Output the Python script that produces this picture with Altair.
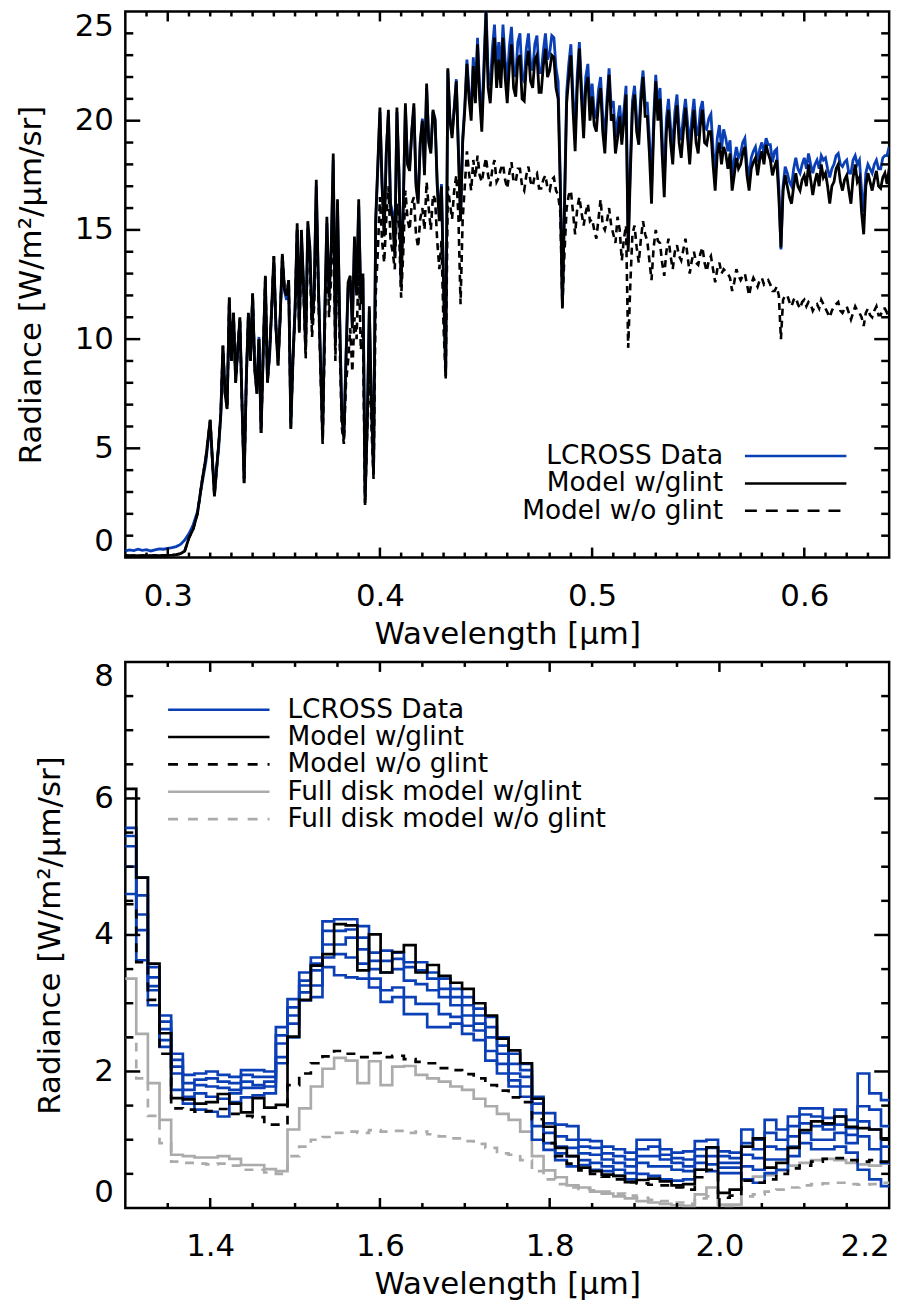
import altair as alt
import pandas as pd

FONT = "DejaVu Sans"
BLUE = "#0b3fb6"
GRAY = "#ababab"
BLACK = "#000000"
W, H = 768, 549

# ------------------------------------------------------------------
# Top panel: UV/visible spectrum (wavelength in micron, radiance)
# ------------------------------------------------------------------
TOP_WL = [
    0.280, 0.282, 0.284, 0.286, 0.288, 0.290, 0.292, 0.294, 0.296, 0.298,
    0.300, 0.302, 0.304, 0.306, 0.308, 0.310, 0.312, 0.314, 0.316, 0.318,
    0.320, 0.321, 0.322, 0.323, 0.324, 0.325, 0.326, 0.327, 0.328, 0.329,
    0.330, 0.331, 0.332, 0.333, 0.334, 0.335, 0.336, 0.337, 0.338, 0.339,
    0.340, 0.341, 0.342, 0.343, 0.344, 0.345, 0.346, 0.347, 0.348, 0.349,
    0.350, 0.351, 0.352, 0.353, 0.354, 0.355, 0.356, 0.357, 0.358, 0.359,
    0.360, 0.361, 0.362, 0.363, 0.364, 0.365, 0.366, 0.367, 0.368, 0.369,
    0.370, 0.371, 0.372, 0.373, 0.374, 0.375, 0.376, 0.377, 0.378, 0.379,
    0.380, 0.381, 0.382, 0.383, 0.384, 0.385, 0.386, 0.387, 0.388, 0.389,
    0.390, 0.391, 0.392, 0.393, 0.394, 0.395, 0.396, 0.397, 0.398, 0.399,
    0.400, 0.401, 0.402, 0.403, 0.404, 0.405, 0.406, 0.407, 0.408, 0.409,
    0.410, 0.411, 0.412, 0.413, 0.414, 0.415, 0.416, 0.417, 0.418, 0.419,
    0.420, 0.421, 0.422, 0.423, 0.424, 0.425, 0.426, 0.427, 0.428, 0.429,
    0.430, 0.431, 0.432, 0.433, 0.434, 0.435, 0.436, 0.437, 0.438, 0.439,
    0.440, 0.441, 0.442, 0.443, 0.444, 0.445, 0.446, 0.447, 0.448, 0.449,
    0.450, 0.451, 0.452, 0.453, 0.454, 0.455, 0.456, 0.457, 0.458, 0.459,
    0.460, 0.461, 0.462, 0.463, 0.464, 0.465, 0.466, 0.467, 0.468, 0.469,
    0.470, 0.471, 0.472, 0.473, 0.474, 0.475, 0.476, 0.477, 0.478, 0.479,
    0.480, 0.481, 0.482, 0.483, 0.484, 0.485, 0.486, 0.487, 0.488, 0.489,
    0.490, 0.491, 0.492, 0.493, 0.494, 0.495, 0.496, 0.497, 0.498, 0.499,
    0.500, 0.501, 0.502, 0.503, 0.504, 0.505, 0.506, 0.507, 0.508, 0.509,
    0.510, 0.511, 0.512, 0.513, 0.514, 0.515, 0.516, 0.517, 0.518, 0.519,
    0.520, 0.521, 0.522, 0.523, 0.524, 0.525, 0.526, 0.527, 0.528, 0.529,
    0.530, 0.531, 0.532, 0.533, 0.534, 0.535, 0.536, 0.537, 0.538, 0.539,
    0.540, 0.541, 0.542, 0.543, 0.544, 0.545, 0.546, 0.547, 0.548, 0.549,
    0.550, 0.551, 0.552, 0.553, 0.554, 0.555, 0.556, 0.557, 0.558, 0.559,
    0.560, 0.561, 0.562, 0.563, 0.564, 0.565, 0.566, 0.567, 0.568, 0.569,
    0.570, 0.571, 0.572, 0.573, 0.574, 0.575, 0.576, 0.577, 0.578, 0.579,
    0.580, 0.581, 0.582, 0.583, 0.584, 0.585, 0.586, 0.587, 0.588, 0.589,
    0.590, 0.591, 0.592, 0.593, 0.594, 0.595, 0.596, 0.597, 0.598, 0.599,
    0.600, 0.601, 0.602, 0.603, 0.604, 0.605, 0.606, 0.607, 0.608, 0.609,
    0.610, 0.611, 0.612, 0.613, 0.614, 0.615, 0.616, 0.617, 0.618, 0.619,
    0.620, 0.621, 0.622, 0.623, 0.624, 0.625, 0.626, 0.627, 0.628, 0.629,
    0.630, 0.631, 0.632, 0.633, 0.634, 0.635, 0.636, 0.637, 0.638, 0.639, 0.640,
]

TOP_LCROSS = [
    0.30, 0.35, 0.32, 0.38, 0.33, 0.36, 0.30, 0.35, 0.40, 0.38,
    0.42, 0.45, 0.50, 0.60, 0.80, 1.10, 1.50, 2.10, 3.30, 4.40,
    6.2, 4.6, 3.0, 4.1, 5.0, 6.5, 9.5, 7.6, 7.0, 11.6,
    9.2, 11.0, 8.2, 9.6, 10.8, 7.2, 3.6, 8.2, 11.0, 9.2,
    11.9, 8.8, 7.8, 10.1, 5.9, 9.5, 12.6, 8.2, 9.2, 11.3,
    13.5, 10.6, 9.0, 11.1, 13.6, 12.2, 11.8, 12.5, 6.2, 9.2,
    11.4, 15.0, 10.6, 14.7, 12.4, 9.8, 15.1, 14.0, 10.9, 12.1,
    17.0, 12.4, 9.1, 5.8, 11.2, 15.3, 12.1, 13.9, 18.2, 9.9,
    16.1, 11.2, 6.8, 5.7, 9.2, 12.4, 12.7, 10.7, 14.4, 12.2,
    16.1, 11.8, 12.8, 2.8, 6.2, 11.3, 7.2, 4.0, 15.3, 17.8,
    20.4, 17.2, 15.0, 18.6, 20.3, 16.2, 15.8, 14.0, 20.4, 17.6,
    12.6, 16.2, 20.6, 18.1, 17.9, 19.5, 20.6, 17.2, 16.4, 19.0,
    20.1, 17.7, 21.5, 19.1, 18.7, 20.4, 20.1, 17.2, 15.6, 17.1,
    12.6, 8.6, 22.3, 20.1, 19.4, 20.6, 21.9, 18.7, 15.6, 19.2,
    20.7, 22.8, 21.3, 20.4, 22.9, 21.2, 23.8, 21.5, 20.0, 22.6,
    25.2, 22.2, 21.6, 23.3, 24.4, 22.3, 23.6, 22.3, 24.4, 22.8,
    21.8, 23.4, 24.3, 22.4, 22.0, 23.6, 24.0, 22.0, 21.8, 23.3,
    24.0, 22.6, 22.3, 23.5, 23.9, 22.2, 22.2, 23.2, 24.0, 22.8,
    23.1, 23.9, 23.8, 22.4, 21.8, 17.3, 11.6, 16.4, 21.3, 22.6,
    23.5, 21.2, 19.3, 22.1, 23.6, 21.6, 19.8, 22.0, 22.6, 20.7,
    21.7, 20.4, 20.1, 21.4, 22.0, 20.2, 19.3, 21.0, 22.4, 20.6,
    20.9, 19.2, 20.0, 20.7, 19.6, 20.5, 21.6, 14.3, 18.0, 20.9,
    21.6, 20.1, 19.5, 21.3, 22.3, 20.8, 20.8, 19.2, 16.9, 20.1,
    22.1, 20.6, 21.5, 19.3, 17.2, 20.1, 21.0, 19.7, 18.8, 20.4,
    21.2, 19.7, 19.1, 20.2, 21.0, 19.9, 18.8, 20.1, 21.0, 19.7,
    19.3, 20.5, 20.9, 19.7, 19.6, 20.1, 20.3, 18.7, 17.5, 19.2,
    19.8, 18.7, 19.6, 19.2, 18.6, 19.1, 17.5, 18.2, 18.8, 18.3,
    18.5, 19.0, 19.2, 18.0, 17.4, 18.3, 18.6, 18.8, 18.1, 18.7,
    19.0, 18.5, 19.2, 18.9, 18.9, 18.1, 18.6, 18.7, 17.0, 14.1,
    17.0, 17.9, 17.6, 17.2, 17.0, 17.8, 18.3, 17.8, 17.6, 18.0,
    18.3, 17.8, 18.5, 18.0, 17.6, 18.0, 18.2, 17.8, 18.4, 18.2,
    18.3, 17.8, 17.4, 17.8, 18.0, 18.4, 18.5, 18.0, 17.9, 18.1,
    18.2, 17.6, 17.6, 18.2, 18.4, 18.0, 18.2, 16.8, 15.8, 17.6,
    18.0, 17.8, 17.6, 18.0, 18.2, 17.8, 17.8, 18.3, 18.4, 18.4, 18.8,
]

TOP_GLINT = [
    0.10, 0.08, 0.10, 0.08, 0.09, 0.10, 0.08, 0.10, 0.09, 0.10,
    0.10, 0.11, 0.13, 0.18, 0.30, 0.90, 1.30, 2.00, 3.40, 4.60,
    6.3, 4.5, 2.8, 4.0, 5.2, 6.6, 9.7, 7.5, 6.8, 11.9,
    9.0, 11.2, 8.0, 9.5, 11.0, 7.0, 3.4, 8.0, 11.2, 9.0,
    12.1, 8.6, 7.5, 10.0, 5.7, 9.4, 12.9, 8.0, 9.4, 11.5,
    13.8, 10.5, 8.8, 11.0, 13.9, 12.3, 12.0, 12.7, 5.9, 9.0,
    11.3, 15.3, 10.4, 15.0, 12.5, 9.5, 15.4, 14.2, 10.7, 12.0,
    17.3, 12.5, 8.9, 5.4, 11.0, 15.6, 11.9, 14.0, 18.5, 9.7,
    16.4, 11.0, 6.5, 5.4, 9.0, 12.6, 12.9, 10.5, 14.7, 12.0,
    16.4, 11.6, 13.0, 2.5, 6.0, 11.5, 7.0, 3.8, 15.5, 18.0,
    20.6, 17.0, 14.7, 18.5, 20.5, 16.0, 15.5, 13.8, 20.6, 17.5,
    12.4, 16.0, 20.8, 18.0, 17.7, 19.5, 20.8, 17.0, 16.2, 19.0,
    20.0, 17.5, 21.7, 19.0, 18.5, 20.5, 20.0, 17.0, 15.4, 17.0,
    12.4, 8.3, 22.4, 20.0, 19.2, 20.5, 21.8, 18.5, 15.4, 19.0,
    20.5, 22.6, 21.0, 20.0, 22.5, 20.8, 23.5, 21.0, 19.5, 22.0,
    24.9, 21.5, 20.8, 22.5, 23.8, 21.5, 22.8, 21.5, 23.8, 22.0,
    20.8, 22.5, 23.5, 21.5, 21.1, 22.8, 23.0, 21.0, 20.9, 22.5,
    23.2, 21.8, 21.5, 22.8, 23.0, 21.3, 21.3, 22.5, 23.3, 22.0,
    22.3, 23.0, 22.9, 21.5, 21.0, 17.0, 11.4, 16.0, 20.8, 22.0,
    23.0, 20.5, 18.6, 21.5, 23.3, 21.0, 19.2, 21.5, 22.0, 20.0,
    21.1, 19.8, 19.5, 20.8, 21.5, 19.5, 18.5, 20.5, 22.1, 20.0,
    20.3, 18.5, 19.2, 20.2, 18.9, 20.0, 21.2, 14.0, 17.5, 20.5,
    21.2, 19.5, 18.9, 20.8, 22.0, 20.2, 20.2, 18.5, 16.2, 19.5,
    21.8, 20.0, 21.0, 18.5, 16.5, 19.5, 20.5, 19.0, 18.0, 19.8,
    20.7, 19.0, 18.3, 19.5, 20.6, 19.2, 18.0, 19.5, 20.5, 19.0,
    18.5, 19.8, 20.5, 19.0, 18.9, 19.5, 19.5, 18.0, 16.8, 18.5,
    19.0, 18.0, 18.8, 18.5, 17.8, 18.5, 16.8, 17.5, 18.3, 17.8,
    18.0, 18.5, 18.8, 17.5, 16.8, 17.8, 18.1, 18.3, 17.5, 18.2,
    18.6, 18.0, 18.9, 18.5, 18.2, 17.5, 17.9, 18.2, 16.5, 14.2,
    16.8, 17.5, 17.0, 16.5, 16.2, 17.0, 17.6, 17.0, 16.8, 17.3,
    17.5, 17.0, 18.0, 17.3, 16.6, 17.2, 17.6, 17.0, 18.0, 17.4,
    17.6, 17.0, 16.2, 17.0, 17.2, 17.8, 18.0, 17.2, 16.8, 17.3,
    17.5, 16.8, 16.2, 17.4, 18.0, 17.2, 17.4, 15.8, 14.8, 17.0,
    17.6, 17.2, 16.8, 17.3, 17.7, 17.0, 16.9, 17.4, 17.6, 17.1, 17.8,
]

TOP_NOGLINT = [
    0.10, 0.08, 0.10, 0.08, 0.09, 0.10, 0.08, 0.10, 0.09, 0.10,
    0.10, 0.11, 0.13, 0.18, 0.30, 0.90, 1.30, 2.00, 3.40, 4.60,
    6.3, 4.5, 2.8, 4.0, 5.2, 6.6, 9.7, 7.5, 6.8, 11.9,
    9.0, 11.2, 8.0, 9.5, 11.0, 7.0, 3.4, 8.0, 11.2, 9.0,
    12.1, 8.6, 7.5, 10.0, 5.7, 9.4, 12.9, 8.0, 9.4, 11.5,
    13.8, 10.5, 8.8, 11.0, 13.9, 12.3, 12.0, 12.7, 5.9, 9.0,
    11.2, 15.1, 10.2, 14.6, 12.2, 9.1, 14.8, 13.6, 10.1, 11.5,
    16.5, 12.0, 8.5, 5.2, 10.2, 14.7, 11.0, 12.8, 16.8, 9.0,
    15.0, 10.0, 6.0, 5.2, 8.0, 9.0, 10.5, 8.5, 11.0, 10.0,
    13.5, 9.5, 10.5, 2.4, 5.8, 9.0, 6.0, 3.6, 12.0, 14.0,
    16.5, 14.5, 13.5, 15.5, 17.0, 14.5, 14.0, 13.2, 16.2, 15.0,
    11.9, 14.0, 16.8, 15.5, 15.0, 16.2, 16.5, 14.8, 14.2, 15.5,
    16.0, 15.0, 17.2, 16.0, 15.0, 16.6, 16.4, 14.5, 13.2, 14.5,
    10.5, 8.2, 17.0, 16.2, 15.5, 16.8, 17.5, 15.6, 11.6, 15.5,
    17.0, 18.6, 17.6, 16.8, 18.2, 17.4, 18.4, 17.5, 17.2, 17.8,
    18.3, 17.5, 17.0, 17.8, 18.2, 17.2, 17.4, 17.8, 18.0, 17.3,
    16.9, 17.6, 18.1, 17.2, 17.2, 17.8, 17.8, 17.0, 16.8, 17.5,
    17.9, 17.2, 17.0, 17.5, 17.6, 16.9, 16.9, 17.3, 17.5, 16.9,
    16.8, 17.3, 17.4, 16.8, 16.6, 15.8, 11.5, 14.0, 16.0, 16.6,
    16.8, 15.8, 14.8, 16.0, 16.5, 15.8, 15.2, 15.8, 16.2, 15.4,
    15.5, 15.0, 14.6, 15.5, 16.4, 15.2, 15.0, 15.4, 16.0, 15.2,
    14.8, 14.4, 15.6, 15.0, 13.6, 14.6, 15.2, 9.6, 12.5, 14.8,
    15.2, 14.2, 13.5, 14.6, 15.4, 14.8, 14.5, 13.6, 12.7, 14.2,
    15.0, 14.5, 14.4, 13.5, 12.9, 14.0, 14.6, 13.8, 13.2, 14.0,
    14.3, 13.8, 13.6, 14.1, 14.6, 13.8, 13.0, 13.6, 14.0, 13.5,
    13.4, 13.9, 14.2, 13.5, 13.1, 13.6, 13.8, 13.2, 12.6, 13.2,
    13.5, 13.0, 13.2, 13.1, 13.0, 12.8, 12.2, 12.6, 13.2, 12.9,
    12.7, 12.9, 13.0, 12.5, 12.0, 12.5, 12.8, 12.6, 12.4, 12.7,
    12.8, 12.5, 12.6, 12.7, 12.5, 12.2, 12.2, 12.4, 12.0, 10.0,
    11.8, 12.0, 12.0, 11.7, 11.5, 11.8, 11.9, 11.6, 11.4, 11.7,
    11.8, 11.5, 11.7, 11.6, 11.3, 11.5, 11.6, 11.4, 11.8, 11.6,
    11.4, 11.2, 11.0, 11.3, 11.5, 11.6, 11.7, 11.3, 11.2, 11.4,
    11.5, 11.2, 10.9, 11.2, 11.5, 11.3, 11.2, 11.0, 10.6, 11.2,
    11.4, 11.1, 11.0, 11.3, 11.5, 11.1, 11.1, 11.4, 11.4, 11.2, 11.3,
]

TOP_X_MAJOR = [0.3, 0.4, 0.5, 0.6]
TOP_X_MINOR = [0.29, 0.31, 0.32, 0.33, 0.34, 0.35, 0.36, 0.37, 0.38, 0.39,
               0.41, 0.42, 0.43, 0.44, 0.45, 0.46, 0.47, 0.48, 0.49,
               0.51, 0.52, 0.53, 0.54, 0.55, 0.56, 0.57, 0.58, 0.59,
               0.61, 0.62, 0.63]
TOP_Y_MAJOR = [5, 10, 15, 20]
TOP_Y_MINOR = [1, 2, 3, 4, 6, 7, 8, 9, 11, 12, 13, 14, 16, 17, 18, 19, 21, 22, 23, 24]
TOP_X_LABELS = [0.3, 0.4, 0.5, 0.6]
TOP_Y_LABELS = [0, 5, 10, 15, 20, 25]
TOP_LEGEND = ["LCROSS Data", "Model w/glint", "Model w/o glint"]

# ------------------------------------------------------------------
# Bottom panel: near-IR binned spectra (bin start wavelengths)
# ------------------------------------------------------------------
NIR_WL = [
    1.2992, 1.3129, 1.3266, 1.3403, 1.3540, 1.3678, 1.3815, 1.3952, 1.4089, 1.4226,
    1.4363, 1.4500, 1.4637, 1.4774, 1.4911, 1.5049, 1.5186, 1.5323, 1.5460, 1.5597,
    1.5734, 1.5871, 1.6008, 1.6145, 1.6282, 1.6420, 1.6557, 1.6694, 1.6831, 1.6968,
    1.7105, 1.7242, 1.7379, 1.7516, 1.7653, 1.7791, 1.7928, 1.8065, 1.8202, 1.8339,
    1.8476, 1.8613, 1.8750, 1.8887, 1.9024, 1.9162, 1.9299, 1.9436, 1.9573, 1.9710,
    1.9847, 1.9984, 2.0121, 2.0258, 2.0395, 2.0533, 2.0670, 2.0807, 2.0944, 2.1081,
    2.1218, 2.1355, 2.1492, 2.1629, 2.1766, 2.1904,
]
NIR_LAST_EDGE = 2.2041

NIR_GLINT = [
    6.14, 4.84, 3.58, 2.56, 1.61, 1.59, 1.53, 1.55, 1.67, 1.53,
    1.40, 1.61, 1.47, 1.51, 2.51, 3.05, 3.55, 3.72, 4.16, 4.14,
    3.48, 4.01, 3.45, 3.75, 3.85, 3.45, 3.56, 3.40, 3.30, 3.21,
    3.00, 2.82, 2.48, 2.31, 2.12, 1.60, 1.19, 0.88, 0.76, 0.59,
    0.54, 0.49, 0.47, 0.38, 0.41, 0.43, 0.39, 0.33, 0.35, 0.56,
    0.89, 0.22, 0.27, 0.90, 1.02, 0.59, 0.66, 0.88, 1.14, 1.27,
    1.24, 1.34, 1.19, 1.17, 1.15, 1.02,
]
NIR_NOGLINT = [
    4.45, 3.60, 3.05, 2.26, 1.46, 1.44, 1.41, 1.42, 1.45, 1.38,
    1.35, 1.33, 1.22, 1.22, 1.80, 1.97, 2.12, 2.22, 2.30, 2.26,
    2.21, 2.27, 2.21, 2.23, 2.18, 2.14, 2.12, 2.05, 2.02, 1.96,
    1.90, 1.80, 1.72, 1.62, 1.55, 1.30, 0.95, 0.76, 0.65, 0.55,
    0.50, 0.46, 0.42, 0.38, 0.36, 0.34, 0.33, 0.30, 0.27, 0.45,
    0.56, 0.15, 0.18, 0.40, 0.37, 0.42, 0.50, 0.58, 0.62, 0.68,
    0.72, 0.73, 0.70, 0.68, 0.70, 0.68,
]
NIR_FULL_GLINT = [
    3.36, 2.55, 1.83, 1.29, 0.78, 0.76, 0.74, 0.74, 0.76, 0.72,
    0.63, 0.63, 0.57, 0.54, 1.15, 1.46, 1.78, 2.04, 2.20, 2.16,
    1.83, 2.15, 1.80, 2.07, 2.08, 1.95, 1.90, 1.85, 1.78, 1.73,
    1.60, 1.49, 1.38, 1.29, 1.12, 0.76, 0.55, 0.45, 0.33, 0.30,
    0.24, 0.21, 0.17, 0.14, 0.10, 0.08, 0.06, 0.04, 0.03, 0.20,
    0.30, 0.05, 0.05, 0.40, 0.46, 0.48, 0.55, 0.62, 0.66, 0.70,
    0.72, 0.70, 0.66, 0.64, 0.62, 0.65,
]
NIR_FULL_NOGLINT = [
    2.50, 1.90, 1.35, 0.95, 0.68, 0.66, 0.65, 0.64, 0.65, 0.62,
    0.56, 0.56, 0.52, 0.50, 0.76, 0.90, 1.00, 1.04, 1.10, 1.12,
    1.10, 1.14, 1.12, 1.13, 1.10, 1.12, 1.08, 1.05, 1.02, 0.98,
    0.94, 0.88, 0.80, 0.78, 0.70, 0.54, 0.42, 0.35, 0.30, 0.28,
    0.26, 0.24, 0.21, 0.18, 0.15, 0.12, 0.10, 0.08, 0.06, 0.14,
    0.17, 0.03, 0.03, 0.17, 0.20, 0.24, 0.27, 0.30, 0.33, 0.35,
    0.36, 0.37, 0.35, 0.34, 0.35, 0.37,
]
# Five LCROSS NIR spectra
NIR_LCROSS_1 = [
    5.57, 4.84, 3.53, 2.82, 2.26, 1.95, 1.97, 2.00, 1.95, 1.92,
    2.02, 2.02, 2.00, 2.65, 3.06, 3.45, 3.67, 4.20, 4.23, 4.23,
    4.13, 3.74, 3.77, 3.74, 3.60, 3.60, 3.45, 3.36, 3.21, 3.09,
    2.92, 2.80, 2.50, 2.26, 2.11, 1.63, 1.39, 1.22, 1.20, 1.00,
    0.98, 0.90, 0.86, 0.81, 1.00, 1.00, 0.86, 0.81, 0.83, 0.98,
    1.00, 0.83, 0.81, 1.15, 1.00, 1.29, 1.15, 1.34, 1.46, 1.46,
    1.32, 1.44, 1.29, 1.97, 1.68, 1.58,
]
NIR_LCROSS_2 = [
    5.45, 4.58, 3.38, 2.73, 2.17, 1.83, 1.88, 1.90, 1.85, 1.83,
    1.95, 1.92, 1.92, 2.53, 2.94, 3.33, 3.58, 4.06, 4.06, 4.08,
    3.96, 3.62, 3.62, 3.65, 3.53, 3.48, 3.36, 3.21, 3.09, 2.97,
    2.82, 2.65, 2.38, 2.11, 2.02, 1.53, 1.24, 1.05, 1.00, 0.90,
    0.88, 0.80, 0.76, 0.71, 0.86, 0.90, 0.78, 0.73, 0.71, 0.86,
    0.88, 0.76, 0.73, 0.95, 0.86, 1.10, 1.00, 1.20, 1.37, 1.34,
    1.22, 1.34, 1.17, 1.49, 1.44, 1.20,
]
NIR_LCROSS_3 = [
    5.30, 4.30, 3.25, 2.62, 2.07, 1.73, 1.80, 1.78, 1.76, 1.73,
    1.85, 1.80, 1.85, 2.41, 2.82, 3.26, 3.48, 3.86, 3.86, 3.96,
    3.79, 3.50, 3.45, 3.50, 3.33, 3.28, 3.19, 3.09, 2.97, 2.82,
    2.70, 2.50, 2.26, 1.97, 1.92, 1.39, 1.10, 0.90, 0.88, 0.80,
    0.78, 0.71, 0.66, 0.61, 0.76, 0.76, 0.71, 0.66, 0.61, 0.76,
    0.76, 0.66, 0.66, 0.78, 0.73, 0.90, 0.86, 1.05, 1.24, 1.20,
    1.15, 1.22, 1.07, 1.27, 1.15, 0.90,
]
NIR_LCROSS_4 = [
    5.00, 4.07, 3.19, 2.46, 1.97, 1.63, 1.68, 1.63, 1.60, 1.68,
    1.76, 1.76, 1.78, 2.21, 2.70, 3.16, 3.26, 3.67, 3.72, 3.67,
    3.58, 3.36, 3.19, 3.23, 3.09, 2.99, 2.99, 2.84, 2.80, 2.67,
    2.60, 2.30, 2.11, 1.87, 1.78, 1.20, 0.95, 0.80, 0.76, 0.70,
    0.66, 0.61, 0.56, 0.51, 0.66, 0.61, 0.61, 0.56, 0.54, 0.66,
    0.64, 0.59, 0.59, 0.61, 0.56, 0.71, 0.71, 0.90, 1.10, 1.00,
    1.00, 1.10, 0.95, 1.05, 0.86, 0.66,
]
NIR_LCROSS_5 = [
    4.60, 3.63, 2.97, 2.36, 1.73, 1.53, 1.44, 1.41, 1.34, 1.55,
    1.62, 1.65, 1.68, 2.12, 2.50, 3.04, 3.09, 3.53, 3.41, 3.38,
    3.36, 3.23, 3.02, 3.09, 2.84, 2.84, 2.65, 2.65, 2.70, 2.55,
    2.46, 2.16, 1.97, 1.78, 1.63, 1.00, 0.85, 0.70, 0.61, 0.63,
    0.56, 0.54, 0.47, 0.42, 0.50, 0.47, 0.42, 0.40, 0.42, 0.56,
    0.54, 0.51, 0.51, 0.42, 0.37, 0.51, 0.56, 0.76, 0.95, 0.86,
    0.86, 0.90, 0.81, 0.56, 0.42, 0.32,
]

BOT_X_MAJOR = [1.4, 1.6, 1.8, 2.0]
BOT_X_MINOR = [1.35, 1.45, 1.5, 1.55, 1.65, 1.7, 1.75, 1.85, 1.9, 1.95, 2.05, 2.1, 2.15]
BOT_Y_MAJOR = [2, 4, 6]
BOT_Y_MINOR = [0.5, 1, 1.5, 2.5, 3, 3.5, 4.5, 5, 5.5, 6.5, 7, 7.5]
BOT_X_LABELS = [1.4, 1.6, 1.8, 2.0, 2.2]
BOT_Y_LABELS = [0, 2, 4, 6, 8]
BOT_LEGEND = ["LCROSS Data", "Model w/glint", "Model w/o glint",
              "Full disk model w/glint", "Full disk model w/o glint"]

Y_TITLE = "Radiance [W/m\u00b2/\u03bcm/sr]"
X_TITLE = "Wavelength [\u03bcm]"


def encodings(xdom, ydom, xlabels, ylabels, xfmt, yfmt):
    x = alt.X("wl:Q", scale=alt.Scale(domain=xdom, nice=False, zero=False),
              axis=alt.Axis(values=xlabels, format=xfmt, title=X_TITLE,
                            labelPadding=24, titlePadding=8))
    y = alt.Y("r:Q", scale=alt.Scale(domain=ydom, nice=False, zero=False),
              axis=alt.Axis(values=ylabels, format=yfmt, title=Y_TITLE,
                            labelPadding=12, titlePadding=27, labelFlush=True))
    return x, y


def line(wl, vals, x, y, color, width=2.5, dash=None, interp="linear"):
    df = pd.DataFrame({"wl": wl, "r": vals})
    kw = dict(color=color, strokeWidth=width, clip=True, interpolate=interp)
    if dash:
        kw["strokeDash"] = dash
    return alt.Chart(df).mark_line(**kw).encode(x=x, y=y)


def ticks(x, y, xmaj, xmin, ymaj, ymin):
    out = []
    for vals, ln in ((xmaj, 10), (xmin, 5)):
        df = pd.DataFrame({"wl": vals})
        out.append(alt.Chart(df).mark_rule(color=BLACK, strokeWidth=2.5).encode(
            x=x, y=alt.value(H), y2=alt.value(H - ln)))
        out.append(alt.Chart(df).mark_rule(color=BLACK, strokeWidth=2.5).encode(
            x=x, y=alt.value(0), y2=alt.value(ln)))
    for vals, ln in ((ymaj, 15), (ymin, 8)):
        df = pd.DataFrame({"r": vals})
        out.append(alt.Chart(df).mark_rule(color=BLACK, strokeWidth=2.5).encode(
            y=y, x=alt.value(0), x2=alt.value(ln)))
        out.append(alt.Chart(df).mark_rule(color=BLACK, strokeWidth=2.5).encode(
            y=y, x=alt.value(W), x2=alt.value(W - ln)))
    return out


def legend_entry(label, tx, align, lx1, lx2, ly, color, dash=None, width=2.6):
    one = pd.DataFrame({"label": [label]})
    txt = alt.Chart(one).mark_text(align=align, baseline="middle", font=FONT,
                                   fontSize=26.5, color=BLACK).encode(
        text="label:N", x=alt.value(tx), y=alt.value(ly))
    kw = dict(color=color, strokeWidth=width)
    if dash:
        kw["strokeDash"] = dash
    rule = alt.Chart(one).mark_rule(**kw).encode(
        x=alt.value(lx1), x2=alt.value(lx2), y=alt.value(ly))
    return [txt, rule]


# ---------------- top panel ----------------
tx, ty = encodings([0.28, 0.64], [0, 25], TOP_X_LABELS, TOP_Y_LABELS, ".1f", "d")
top_layers = [
    line(TOP_WL, TOP_LCROSS, tx, ty, BLUE, 2.8),
    line(TOP_WL, TOP_NOGLINT, tx, ty, BLACK, 2.6, [7, 5]),
    line(TOP_WL, TOP_GLINT, tx, ty, BLACK, 2.8),
]
top_layers += ticks(tx, ty, TOP_X_MAJOR, TOP_X_MINOR, TOP_Y_MAJOR, TOP_Y_MINOR)
top_styles = [(BLUE, None), (BLACK, None), (BLACK, [12, 9])]
for i, (lab, (col, dsh)) in enumerate(zip(TOP_LEGEND, top_styles)):
    top_layers += legend_entry(lab, 601, "right", 623, 725, 447 + 27.5 * i, col, dsh)
top = alt.layer(*top_layers).properties(width=W, height=H)

# ---------------- bottom panel ----------------
bx, by = encodings([1.3, 2.2], [0, 8], BOT_X_LABELS, BOT_Y_LABELS, ".1f", "d")
nir_wl = NIR_WL + [NIR_LAST_EDGE]


def step(vals, color, dash=None, width=2.7):
    return line(nir_wl, vals + [vals[-1]], bx, by, color, width, dash, "step-after")


bot_layers = [
    step(NIR_FULL_NOGLINT, GRAY, [9, 8]),
    step(NIR_FULL_GLINT, GRAY),
    step(NIR_LCROSS_1, BLUE),
    step(NIR_LCROSS_2, BLUE),
    step(NIR_LCROSS_3, BLUE),
    step(NIR_LCROSS_4, BLUE),
    step(NIR_LCROSS_5, BLUE),
    step(NIR_NOGLINT, BLACK, [9, 8]),
    step(NIR_GLINT, BLACK),
]
bot_layers += ticks(bx, by, BOT_X_MAJOR, BOT_X_MINOR, BOT_Y_MAJOR, BOT_Y_MINOR)
bot_styles = [(BLUE, None), (BLACK, None), (BLACK, [10, 10]), (GRAY, None), (GRAY, [10, 10])]
for i, (lab, (col, dsh)) in enumerate(zip(BOT_LEGEND, bot_styles)):
    bot_layers += legend_entry(lab, 163, "left", 43, 145, 48 + 27.5 * i, col, dsh)
bottom = alt.layer(*bot_layers).properties(width=W, height=H)

chart = alt.vconcat(top, bottom, spacing=8).properties(
    padding={"left": 14, "top": 5, "right": 25, "bottom": 2},
    background="white",
).configure_view(
    stroke=BLACK, strokeWidth=2.5
).configure_axis(
    labelFont=FONT, titleFont=FONT, labelFontSize=31, titleFontSize=31,
    labelColor=BLACK, titleColor=BLACK, titleFontWeight="normal",
    grid=False, domain=False, ticks=False,
)

chart.save("out.html", embed_options={"renderer": "svg", "actions": False})
